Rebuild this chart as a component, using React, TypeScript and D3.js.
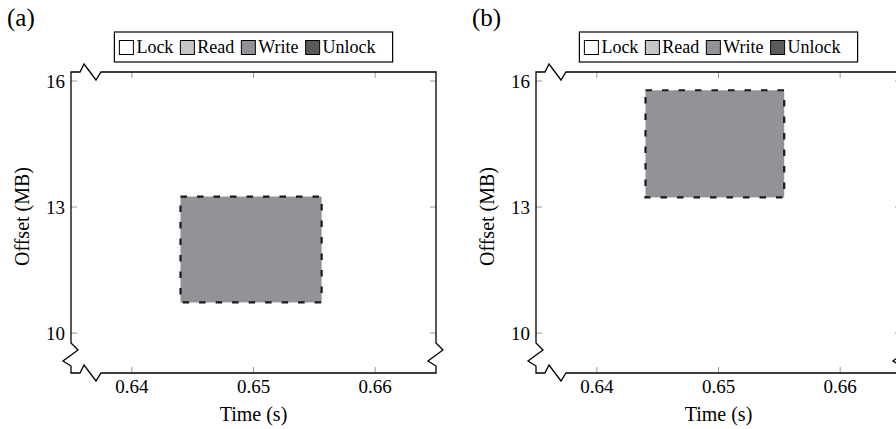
import React, { useEffect, useRef } from "react";
import * as d3 from "d3";

// ---- data ----
const panelLabels = ["(a)", "(b)"];
const xTickValues = [0.64, 0.65, 0.66];
const yTickValues = [10, 13, 16];
const xDomain = [0.635, 0.665];
const yDomain = [9.05, 16.215];
const legendLabels = ["Lock", "Read", "Write", "Unlock"];
// write operation per panel
const writeStart = [0.644, 0.644];
const writeEnd = [0.6556, 0.6554];
const writeOffsetLo = [10.73, 13.23];
const writeOffsetHi = [13.25, 15.78];
const xLabel = "Time (s)";
const yLabel = "Offset (MB)";

const legendColors: Record<string, string> = {
  Lock: "#ffffff",
  Read: "#c6c6c6",
  Write: "#929397",
  Unlock: "#5a5a5a",
};

const FONT = '"Liberation Serif", "Times New Roman", Times, serif';

export default function App() {
  const ref = useRef<SVGSVGElement | null>(null);

  useEffect(() => {
    const svg = d3.select(ref.current);
    svg.selectAll("*").remove();

    const W = 365;
    const T = 72;
    const B = 373;
    const panelLeft = [71, 536];

    const txt = (sel: any) =>
      sel.style("font-family", FONT).attr("fill", "#000");

    panelLabels.forEach((lab, i) => {
      const L = panelLeft[i];
      const R = L + W;
      const g = svg.append("g");
      const x = d3.scaleLinear().domain(xDomain).range([L, R]);
      const y = d3.scaleLinear().domain(yDomain).range([B, T]);

      // panel label
      g.append("text")
        .attr("x", L - 64)
        .attr("y", 26)
        .style("font-size", "25px")
        .call(txt)
        .text(lab);

      // write rectangle
      g.append("rect")
        .attr("x", x(writeStart[i]))
        .attr("y", y(writeOffsetHi[i]))
        .attr("width", x(writeEnd[i]) - x(writeStart[i]))
        .attr("height", y(writeOffsetLo[i]) - y(writeOffsetHi[i]))
        .attr("fill", legendColors.Write)
        .attr("stroke", "#1a1a1a")
        .attr("stroke-width", 2.2)
        .attr("stroke-dasharray", "6.5 10");

      // ticks
      const tl = 6;
      xTickValues.forEach((v) => {
        g.append("line")
          .attr("x1", x(v)).attr("x2", x(v))
          .attr("y1", B).attr("y2", B - tl)
          .attr("stroke", "#9a9a9a").attr("stroke-width", 1);
        g.append("line")
          .attr("x1", x(v)).attr("x2", x(v))
          .attr("y1", T).attr("y2", T + tl)
          .attr("stroke", "#9a9a9a").attr("stroke-width", 1);
        g.append("text")
          .attr("x", x(v))
          .attr("y", 393)
          .attr("text-anchor", "middle")
          .style("font-size", "19px")
          .call(txt)
          .text(d3.format(".2f")(v));
      });
      yTickValues.forEach((v) => {
        g.append("line")
          .attr("x1", L).attr("x2", L + tl)
          .attr("y1", y(v)).attr("y2", y(v))
          .attr("stroke", "#9a9a9a").attr("stroke-width", 1);
        g.append("line")
          .attr("x1", R).attr("x2", R - tl)
          .attr("y1", y(v)).attr("y2", y(v))
          .attr("stroke", "#9a9a9a").attr("stroke-width", 1);
        g.append("text")
          .attr("x", L - 6)
          .attr("y", y(v) + 6.5)
          .attr("text-anchor", "end")
          .style("font-size", "19px")
          .call(txt)
          .text(String(v));
      });

      // frame with crunch decorations
      const p = d3.path();
      p.moveTo(L, T);
      p.lineTo(L + 9, T);
      p.lineTo(L + 13, T - 8);
      p.lineTo(L + 25, T + 8);
      p.lineTo(L + 30, T);
      p.lineTo(R, T);
      p.lineTo(R, B - 30);
      p.lineTo(R + 7, B - 23);
      p.lineTo(R - 8, B - 12);
      p.lineTo(R, B - 7);
      p.lineTo(R, B);
      p.lineTo(L + 30, B);
      p.lineTo(L + 25, B + 8);
      p.lineTo(L + 13, B - 8);
      p.lineTo(L + 9, B);
      p.lineTo(L, B);
      p.lineTo(L, B - 7);
      p.lineTo(L - 8, B - 12);
      p.lineTo(L + 7, B - 23);
      p.lineTo(L, B - 30);
      p.closePath();
      g.append("path")
        .attr("d", p.toString())
        .attr("fill", "none")
        .attr("stroke", "#000")
        .attr("stroke-width", 1.3)
        .attr("stroke-linejoin", "miter");

      // axis labels
      g.append("text")
        .attr("x", (L + R) / 2)
        .attr("y", 421)
        .attr("text-anchor", "middle")
        .style("font-size", "20px")
        .call(txt)
        .text(xLabel);
      g.append("text")
        .attr("transform", `translate(${L - 42},${(T + B) / 2 - 6}) rotate(-90)`)
        .attr("text-anchor", "middle")
        .style("font-size", "20px")
        .call(txt)
        .text(yLabel);

      // legend
      const lg = g.append("g");
      const box = lg.append("rect")
        .attr("y", 32)
        .attr("height", 30)
        .attr("fill", "#fff")
        .attr("stroke", "#000")
        .attr("stroke-width", 1.2);
      let cx = 5;
      legendLabels.forEach((name) => {
        lg.append("rect")
          .attr("x", cx)
          .attr("y", 40.5)
          .attr("width", 14)
          .attr("height", 14)
          .attr("fill", legendColors[name])
          .attr("stroke", "#000")
          .attr("stroke-width", 1);
        const t = lg.append("text")
          .attr("x", cx + 17)
          .attr("y", 53)
          .style("font-size", "18px")
          .call(txt)
          .text(name);
        const w = (t.node() as SVGTextElement).getComputedTextLength();
        cx = cx + 17 + w + 7;
      });
      const boxW = cx + 10;
      box.attr("x", 0).attr("width", boxW);
      lg.attr("transform", `translate(${(L + R) / 2 - boxW / 2},0)`);
    });
  }, []);

  return (
    <svg
      ref={ref}
      width={896}
      height={429}
      style={{ position: "absolute", left: 0, top: 0, background: "#fff", fontFamily: FONT }}
    />
  );
}
